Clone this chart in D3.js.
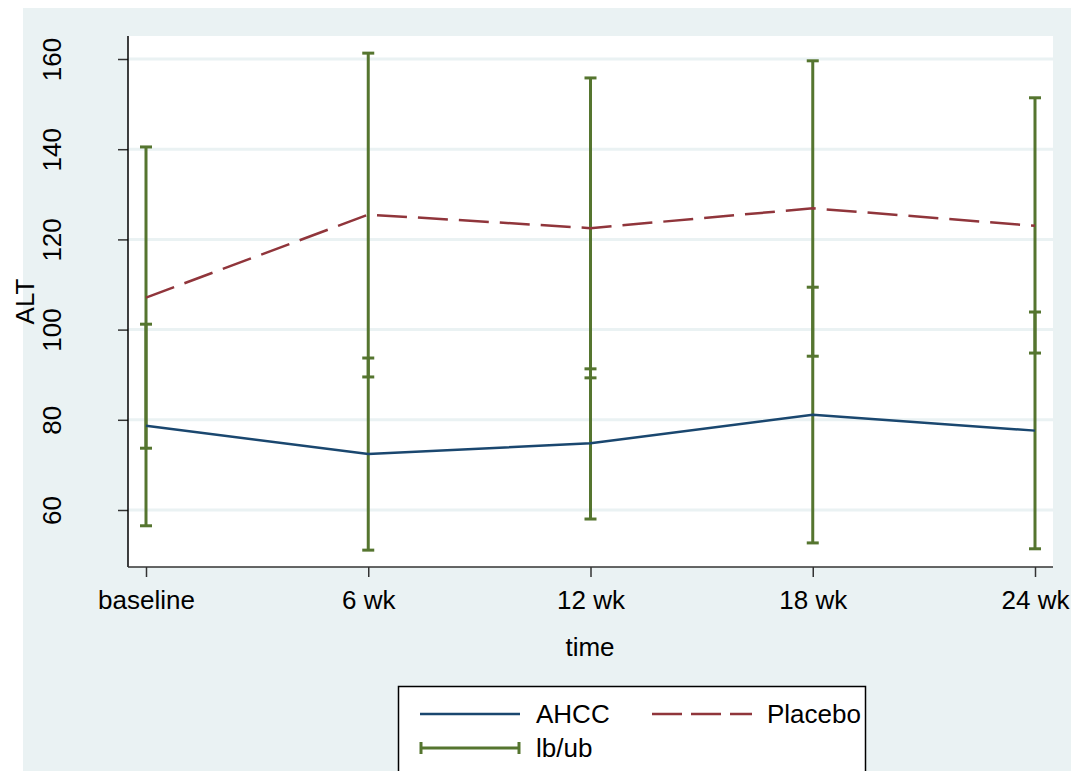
<!DOCTYPE html>
<html><head><meta charset="utf-8">
<script src="https://cdn.jsdelivr.net/npm/d3@7"></script>
<style>body{margin:0;background:#fff}svg{display:block}text{font-family:"Liberation Sans",Arial,sans-serif;fill:#000}</style>
</head><body>
<svg id="c" width="1071" height="771"></svg>
<script>
const categories = ["baseline","6 wk","12 wk","18 wk","24 wk"];
const ahccMean = [78.7, 72.4, 74.8, 81.1, 77.6];
const placeboMean = [107.1, 125.5, 122.5, 126.9, 123.0];
const ahccLb = [56.5, 51.1, 58.0, 52.7, 51.4];
const ahccUb = [101.2, 93.7, 91.3, 109.4, 103.9];
const placeboLb = [73.7, 89.5, 89.3, 94.1, 94.8];
const placeboUb = [140.5, 161.3, 155.8, 159.6, 151.4];
const yTicks = [60, 80, 100, 120, 140, 160];

const svg = d3.select("#c");
const C = {bg:"#eaf2f3", ahcc:"#1a476f", plc:"#90353b", ci:"#55752f", grid:"#eaf2f3"};
const P = {l:128, t:36, r:1053, b:567};
const FS = 26;

svg.append("rect").attr("x",23).attr("y",8).attr("width",1071-23).attr("height",771-8).attr("fill",C.bg);
svg.append("rect").attr("x",P.l).attr("y",P.t).attr("width",P.r-P.l).attr("height",P.b-P.t).attr("fill","#fff");

const x = d3.scalePoint().domain(categories).range([146,1035]);
const y = d3.scaleLinear().domain([60,160]).range([510,59]);

// grid
svg.append("g").selectAll("line").data(yTicks).join("line")
  .attr("x1",P.l).attr("x2",P.r).attr("y1",d=>y(d)).attr("y2",d=>y(d))
  .attr("stroke",C.grid).attr("stroke-width",3);

// y axis
const ya = svg.append("g").attr("transform",`translate(${P.l},0)`)
  .call(d3.axisLeft(y).tickValues(yTicks).tickSize(10).tickPadding(0).tickFormat(d3.format("d")));
ya.select(".domain").remove();
ya.append("line").attr("x1",0).attr("x2",0).attr("y1",P.t).attr("y2",P.b).attr("stroke","#000").attr("stroke-width",1.5);
ya.selectAll(".tick line").attr("stroke","#333").attr("stroke-width",1.5);
ya.selectAll(".tick text").attr("font-size",FS).attr("fill","#000")
  .attr("transform","rotate(-90)").attr("text-anchor","middle")
  .attr("x",0).attr("y",-76).attr("dy","0.35em");

// x axis
const xa = svg.append("g").attr("transform",`translate(0,${P.b})`)
  .call(d3.axisBottom(x).tickSize(10).tickPadding(8));
xa.select(".domain").remove();
xa.append("line").attr("x1",P.l).attr("x2",P.r).attr("y1",0).attr("y2",0).attr("stroke","#333").attr("stroke-width",1.5);
xa.selectAll(".tick line").attr("stroke","#333").attr("stroke-width",1.5);
xa.selectAll(".tick text").attr("font-size",FS).attr("fill","#000").attr("dy","0.71em").attr("y",24);

// axis titles
svg.append("text").attr("x",590).attr("y",656).attr("text-anchor","middle").attr("font-size",FS).text("time");
svg.append("text").attr("transform",`translate(34,${(P.t+P.b)/2}) rotate(-90)`).attr("text-anchor","middle").attr("font-size",FS).text("ALT");

// error bars
function ebars(lb, ub){
  const g = svg.append("g").attr("stroke",C.ci).attr("stroke-width",3);
  categories.forEach((c,i)=>{
    g.append("line").attr("x1",x(c)).attr("x2",x(c)).attr("y1",y(lb[i])).attr("y2",y(ub[i]));
    [lb[i],ub[i]].forEach(v=>g.append("line").attr("x1",x(c)-6).attr("x2",x(c)+6).attr("y1",y(v)).attr("y2",y(v)));
  });
}
ebars(ahccLb, ahccUb);
ebars(placeboLb, placeboUb);

const line = d3.line().x((d,i)=>x(categories[i])).y(d=>y(d));
svg.append("path").datum(ahccMean).attr("d",line).attr("fill","none").attr("stroke",C.ahcc).attr("stroke-width",2.5);
svg.append("path").datum(placeboMean).attr("d",line).attr("fill","none").attr("stroke",C.plc).attr("stroke-width",2.5).attr("stroke-dasharray","30,11");

// legend
const L = svg.append("g");
L.append("rect").attr("x",398.5).attr("y",686.5).attr("width",467).attr("height",110).attr("fill","#fff").attr("stroke","#000").attr("stroke-width",1.5);
L.append("line").attr("x1",420).attr("x2",520).attr("y1",714).attr("y2",714).attr("stroke",C.ahcc).attr("stroke-width",2.5);
L.append("text").attr("x",536).attr("y",723).attr("font-size",FS).text("AHCC");
L.append("line").attr("x1",652).attr("x2",752).attr("y1",714).attr("y2",714).attr("stroke",C.plc).attr("stroke-width",2.5).attr("stroke-dasharray","30,9");
L.append("text").attr("x",767).attr("y",723).attr("font-size",FS).text("Placebo");
const lg = L.append("g").attr("stroke",C.ci).attr("stroke-width",3);
lg.append("line").attr("x1",421).attr("x2",519).attr("y1",748).attr("y2",748);
lg.append("line").attr("x1",421).attr("x2",421).attr("y1",742).attr("y2",754);
lg.append("line").attr("x1",519).attr("x2",519).attr("y1",742).attr("y2",754);
L.append("text").attr("x",536).attr("y",757).attr("font-size",FS).text("lb/ub");
</script>
</body></html>
